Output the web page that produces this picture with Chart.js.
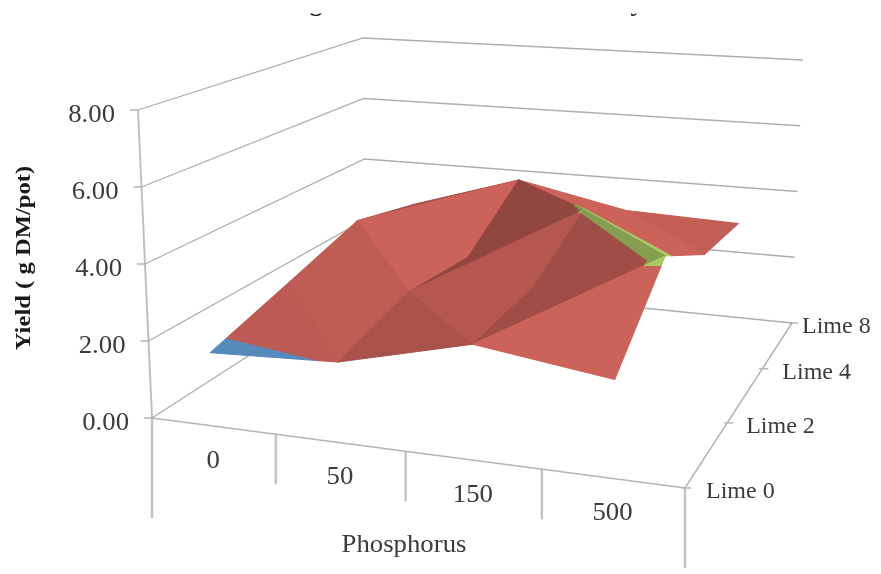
<!DOCTYPE html>
<html>
<head>
<meta charset="utf-8">
<title>Yield surface</title>
<script src="https://cdn.jsdelivr.net/npm/chart.js@4/dist/chart.umd.min.js"></script>
<style>
    html, body { margin: 0; padding: 0; background: #fff; overflow: hidden; }
    canvas { display: block; filter: blur(0.6px); }
</style>
</head>
<body>
<canvas id="surfaceChart" width="881" height="574"></canvas>
<script>
const phosphorus = ['0', '50', '150', '500'];
const limes = ['Lime 0', 'Lime 2', 'Lime 4', 'Lime 8'];
const yieldTicks = [0, 2, 4, 6, 8];

const lime0 = [1.88, 2.02, 2.83, 2.36];
const lime2 = [2.5, 2.55, 3.0, 4.15];
const lime4 = [3.15, 2.36, 4.05, 3.06];
const lime8 = [2.65, 3.7, 3.0, 2.88];

// which diagonal folds each grid cell, one row per pair of lime levels
const folds = [
    ['bd', 'bd', 'ac'],
    ['bd', 'ac', 'bd'],
    ['ac', 'bd', 'bd']
];

const bandEdges = [0, 2, 4, 6];
const bandColors = [[88, 140, 192], [192, 93, 85], [160, 190, 95]];
const limeLabelGaps = [21, 19, 20, 10];

const floorCorners = [[152, 418], [685, 488], [792, 323], [366, 280]];
const topCorners = [[138, 110], [697, 148], [803, 60], [363, 38]];
const yMax = 8;

const floorMap = makeHomography(floorCorners);
const topMap = makeHomography(topCorners);

function makeHomography(q) {
    const [x0, y0] = q[0], [x1, y1] = q[1], [x2, y2] = q[2], [x3, y3] = q[3];
    const dx1 = x1 - x2, dx2 = x3 - x2, sx = x0 - x1 + x2 - x3;
    const dy1 = y1 - y2, dy2 = y3 - y2, sy = y0 - y1 + y2 - y3;
    const det = dx1 * dy2 - dx2 * dy1;
    const g = (sx * dy2 - dx2 * sy) / det;
    const h = (dx1 * sy - sx * dy1) / det;
    const a = x1 - x0 + g * x1, b = x3 - x0 + h * x3;
    const d = y1 - y0 + g * y1, e = y3 - y0 + h * y3;
    return (u, v) => {
        const w = g * u + h * v + 1;
        return { x: (a * u + b * v + x0) / w, y: (d * u + e * v + y0) / w };
    };
}

function project(u, v, z) {
    const f = floorMap(u, v), t = topMap(u, v);
    const k = z / yMax;
    return { x: f.x + (t.x - f.x) * k, y: f.y + (t.y - f.y) * k };
}

function gridPoint(i, j) {
    return { i: i, j: j, z: [lime0, lime2, lime4, lime8][j][i] };
}

function projectGrid(p) {
    return project((p.i + 0.5) / phosphorus.length, p.j / (limes.length - 1), p.z);
}

function clipAbove(poly, level, sign) {
    const out = [];
    for (let n = 0; n < poly.length; n++) {
        const p = poly[n], q = poly[(n + 1) % poly.length];
        const pIn = sign * (p.z - level) >= 0, qIn = sign * (q.z - level) >= 0;
        if (pIn) out.push(p);
        if (pIn !== qIn) {
            const t = (level - p.z) / (q.z - p.z);
            out.push({ i: p.i + (q.i - p.i) * t, j: p.j + (q.j - p.j) * t, z: level });
        }
    }
    return out;
}

function slopeAlongPhosphorus(t) {
    const [p, q, r] = t;
    const num = (q.z - p.z) * (r.j - p.j) - (r.z - p.z) * (q.j - p.j);
    const den = (q.i - p.i) * (r.j - p.j) - (r.i - p.i) * (q.j - p.j);
    return num / den;
}

function shade(rgb, slope) {
    const k = Math.min(1.06, 1 - 0.145 * slope);
    return 'rgb(' + rgb.map(c => Math.min(255, Math.round(c * k))).join(',') + ')';
}

function surfaceDatasets() {
    const result = [];
    for (let j = limes.length - 2; j >= 0; j--) {
        for (let i = 0; i < phosphorus.length - 1; i++) {
            const a = gridPoint(i, j), b = gridPoint(i + 1, j);
            const c = gridPoint(i + 1, j + 1), d = gridPoint(i, j + 1);
            const triangles = folds[j][i] === 'bd' ? [[b, c, d], [a, b, d]] : [[a, c, d], [a, b, c]];
            for (const t of triangles) {
                const slope = slopeAlongPhosphorus(t);
                bandColors.forEach((rgb, n) => {
                    const part = clipAbove(clipAbove(t, bandEdges[n], 1), bandEdges[n + 1], -1);
                    if (part.length < 3) return;
                    result.push({
                        polygon: true,
                        data: part.map(projectGrid),
                        backgroundColor: shade(rgb, slope),
                        showLine: false,
                        pointRadius: 0
                    });
                });
            }
        }
    }
    return result;
}

function lineDataset(points, color, width) {
    return { data: points, borderColor: color, borderWidth: width, showLine: true, pointRadius: 0, tension: 0 };
}

function frameDatasets() {
    const result = [];
    for (const z of yieldTicks) {
        result.push(lineDataset([project(0, 0, z), project(0, 1, z), project(1, 1, z)], '#adadad', 1.3));
        const p = project(0, 0, z);
        result.push(lineDataset([{ x: p.x - 8, y: p.y }, p], '#b4b4b4', 1.5));
    }
    result.push(lineDataset([project(0, 0, 0), project(0, 0, yMax)], '#c0c0c0', 2));
    result.push(lineDataset([project(0, 0, 0), project(1, 0, 0), project(1, 1, 0)], '#b4b4b4', 1.5));

    phosphorus.concat(['']).forEach((name, n) => {
        const u = n / phosphorus.length;
        const p = project(u, 0, 0);
        const drop = n === 0 ? 100 : (n === phosphorus.length ? 80 : 50);
        result.push(lineDataset([p, { x: p.x, y: p.y + drop }], '#c4c4c4', 2.5));
    });
    limes.forEach((name, n) => {
        const p = project(1, n / (limes.length - 1), 0);
        result.push(lineDataset([{ x: p.x - 3, y: p.y }, { x: p.x + 6, y: p.y }], '#b4b4b4', 1.5));
    });
    return result;
}

function stretchedText(ctx, text, x, y, opts) {
    ctx.save();
    ctx.translate(x, y);
    if (opts.rotate) ctx.rotate(opts.rotate);
    ctx.scale(opts.stretch || 1, 1);
    ctx.font = opts.font;
    ctx.fillStyle = opts.color || '#3c3c3c';
    ctx.textAlign = opts.align || 'center';
    ctx.textBaseline = opts.baseline || 'middle';
    ctx.fillText(text, 0, 0);
    ctx.restore();
}

const surfacePlugin = {
    id: 'surfacePlugin',
    afterDatasetsDraw(chart) {
        const ctx = chart.ctx;
        chart.data.datasets.forEach((ds, n) => {
            if (!ds.polygon) return;
            const pts = chart.getDatasetMeta(n).data;
            ctx.beginPath();
            pts.forEach((p, k) => (k ? ctx.lineTo(p.x, p.y) : ctx.moveTo(p.x, p.y)));
            ctx.closePath();
            ctx.fillStyle = ds.backgroundColor;
            ctx.strokeStyle = ds.backgroundColor;
            ctx.lineWidth = 1.1;
            ctx.lineJoin = 'round';
            ctx.fill();
            ctx.stroke();
        });
    },
    afterDraw(chart) {
        const ctx = chart.ctx;
        const sx = chart.scales.x, sy = chart.scales.y;
        const at = (p, dx, dy) => ({ x: sx.getPixelForValue(p.x) + dx, y: sy.getPixelForValue(p.y) + dy });
        const serif = '"Liberation Serif", serif';
        const tickFont = '25px ' + serif;

        yieldTicks.forEach(z => {
            const p = at(project(0, 0, z), -23, 5);
            stretchedText(ctx, z.toFixed(2), p.x, p.y, { font: tickFont, align: 'right', stretch: 1.07 });
        });
        phosphorus.forEach((name, n) => {
            const p = at(project((n + 0.5) / phosphorus.length, 0, 0), 0, 35);
            stretchedText(ctx, name, p.x, p.y, { font: tickFont, stretch: 1.07 });
        });
        limes.forEach((name, n) => {
            const p = at(project(1, n / (limes.length - 1), 0), limeLabelGaps[n], 4);
            stretchedText(ctx, name, p.x, p.y, { font: '24px ' + serif, align: 'left' });
        });
        stretchedText(ctx, 'Phosphorus', 404, 545, { font: tickFont, stretch: 1.07 });
        stretchedText(ctx, 'Yield ( g DM/pot)', 24, 258, { font: 'bold 22px ' + serif, rotate: -Math.PI / 2, stretch: 1.12, color: '#1a1a1a' });

        // only the descenders of the cropped title are left in the frame
        ctx.save();
        ctx.beginPath();
        ctx.rect(0, 13.5, chart.width, 3);
        ctx.clip();
        stretchedText(ctx, 'g', 316, 10.5, { font: 'bold 26px ' + serif, baseline: 'alphabetic', color: '#222' });
        stretchedText(ctx, 'y', 637, 10.5, { font: 'bold 26px ' + serif, baseline: 'alphabetic', color: '#222' });
        ctx.restore();
    }
};

const ctx = document.getElementById('surfaceChart').getContext('2d');
const surfaceChart = new Chart(ctx, {
    type: 'scatter',
    data: { datasets: frameDatasets().concat(surfaceDatasets()) },
    options: {
        responsive: false,
        animation: false,
        layout: { padding: 0 },
        plugins: { legend: { display: false }, title: { display: false }, tooltip: { enabled: false } },
        scales: {
            x: { type: 'linear', min: 0, max: 881, display: false },
            y: { type: 'linear', min: 0, max: 574, reverse: true, display: false }
        }
    },
    plugins: [surfacePlugin]
});
</script>
</body>
</html>
